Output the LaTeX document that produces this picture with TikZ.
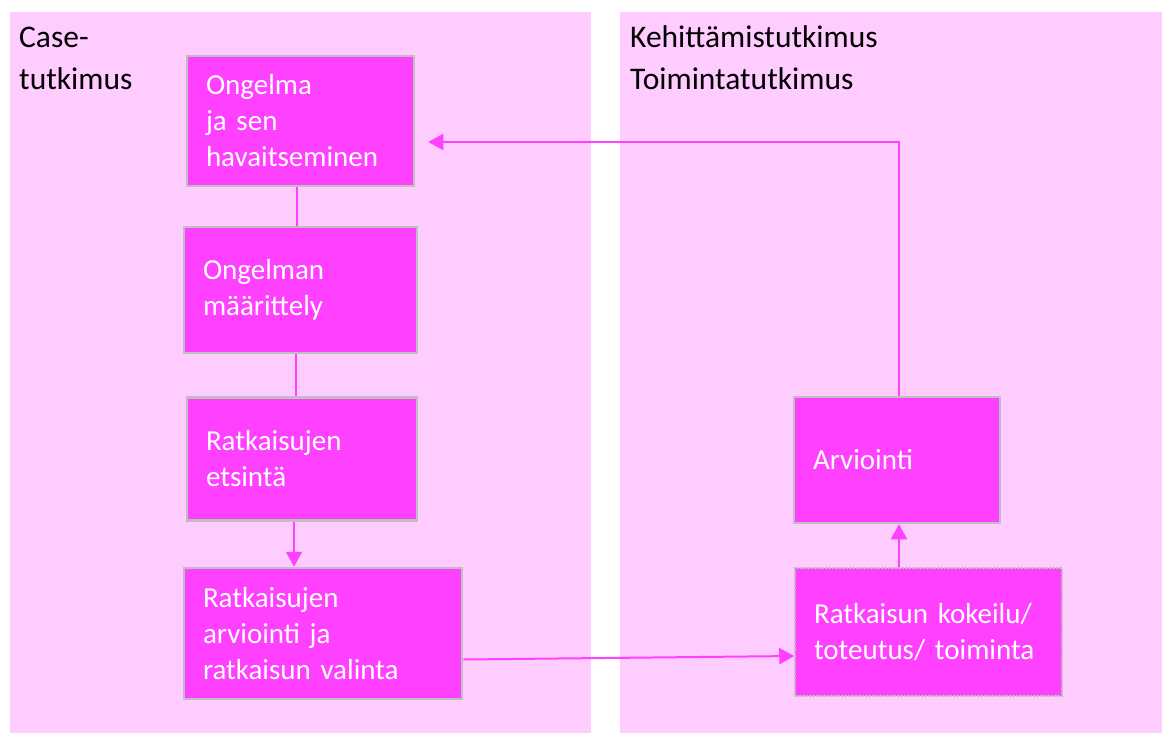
\documentclass[tikz,border=0pt]{standalone}
\usepackage{fontspec}
\setmainfont{Carlito}
\usetikzlibrary{arrows.meta,positioning,calc}
\definecolor{dmagenta}{RGB}{255, 64, 255}
\definecolor{lmagenta}{RGB}{255, 204, 255}
\definecolor{lgray}{RGB}{190, 190, 190}
\tikzstyle{panel} = [fill=lmagenta, draw=none]
\tikzstyle{title} = [anchor=base west, inner sep=0pt, align=left,
  font=\fontsize{31.5}{42}\selectfont]
\tikzstyle{block} = [rectangle, draw=lgray, line width=2.5pt, fill=dmagenta,
  text=white, align=left, inner xsep=19pt, inner ysep=0pt,
  font=\fontsize{29}{36}\selectfont]
\tikzstyle{line} = [draw, line width=2pt, color=dmagenta,
  -{Triangle[length=15pt,width=16pt]}]
\tikzstyle{plain} = [draw, line width=2pt, color=dmagenta]

\begin{document}
\begin{tikzpicture}[x=1pt,y=-1pt]
  \useasboundingbox (0,0) rectangle (1162,733);
  \path [panel] (10,12) rectangle (591,740);
  \path [panel] (620,12) rectangle (1170,740);
  \node [title] (case) at (19,90) {Case-\\tutkimus};
  \node [title] (kehi) at (630,90) {Kehittämistutkimus\\Toimintatutkimus};

  \node [block, text width=189pt, minimum height=130pt] (b1) at (300.5,121) {
    Ongelma\\ja sen\\havaitseminen
  };
  \node [block, text width=195pt, minimum height=126pt] (b2) at (300.5,290) {
    Ongelman\\määrittely
  };
  \node [block, text width=192pt, minimum height=123pt] (b3) at (302,459) {
    Ratkaisujen\\etsintä
  };
  \node [block, text width=240pt, minimum height=131pt] (b4) at (323,633.5) {
    Ratkaisujen\\arviointi ja\\ratkaisun valinta
  };
  \node [block, text width=168pt, minimum height=126pt] (b5) at (897,460) {
    Arviointi
  };
  \node [block, densely dotted, line width=1.5pt, text width=229pt,
    minimum height=128pt] (b6) at (928.5,632) {
    Ratkaisun kokeilu/\\toteutus/ toiminta
  };
  \coordinate (b1in) at ($(b1.east)+(13,21)$);

  \path [plain] ([xshift=-3.5pt]b1.south) -- ([xshift=-3.5pt]b1.south |- b2.north);
  \path [plain] ([xshift=-4.5pt]b2.south) -- ([xshift=-4.5pt]b2.south |- b3.north);
  \path [line] ([xshift=-8pt]b3.south) -- ([xshift=-8pt]b3.south |- b4.north);
  \path [line] ($(b4.east)+(0,26)$) -- ($(b6.west)+(0,24)$);
  \path [line] ([xshift=2pt]b5.south |- b6.north) -- ([xshift=2pt]b5.south);
  \path [line] ([xshift=2pt]b5.north) |- (b1in);
\end{tikzpicture}
\end{document}
